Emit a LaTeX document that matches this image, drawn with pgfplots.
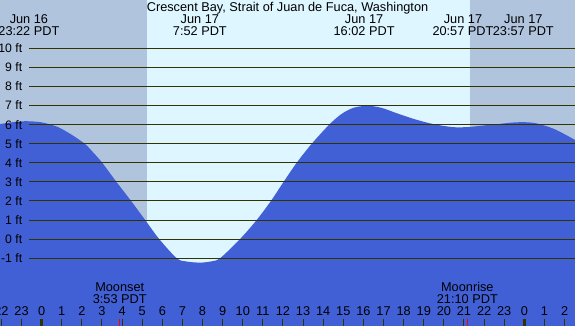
\documentclass[border=0pt]{standalone}
\usepackage{fontspec}
\setmainfont{Liberation Sans}
\usepackage{pgfplots}
\pgfplotsset{compat=1.18}
\definecolor{night}{RGB}{176,196,222}
\definecolor{day}{RGB}{222,246,255}
\definecolor{tide}{RGB}{66,96,214}
\definecolor{ink}{RGB}{51,51,0}
\begin{document}
\fontsize{12.8}{14}\selectfont
\begin{tikzpicture}
\begin{axis}[scale only axis, width=575bp, height=326bp,
  xmin=-2.07, xmax=26.52, ymin=-4.55, ymax=12.53,
  hide axis, clip=true,
  every node/.append style={text=ink, inner sep=0pt}]
\fill[night] (axis cs:-2.07,-4.55) rectangle (axis cs:5.22,12.53);
\fill[day] (axis cs:5.22,-4.55) rectangle (axis cs:21.3,12.53);
\fill[night] (axis cs:21.3,-4.55) rectangle (axis cs:26.52,12.53);
\addplot[fill=tide, draw=none, smooth, tension=0.5] coordinates {
(-2.07,6.03) (-1.5,6.12) (-0.8,6.18) (0.0,6.12) (0.75,5.9) (1.24,5.63)
(1.7,5.33) (2.2,4.95) (2.6,4.5) (3.0,4.02) (3.72,3.0) (4.45,2.0) (5.15,1.0)
(5.85,0.0) (6.72,-1.0) (7.2,-1.17) (7.87,-1.23) (8.4,-1.17) (8.87,-1.0)
(9.86,0.0) (10.69,1.0) (11.4,2.0) (12.03,3.0) (12.68,4.0) (13.43,5.0)
(14.3,6.0) (14.9,6.55) (15.5,6.88) (16.2,6.99) (16.9,6.88) (17.65,6.6)
(18.5,6.3) (19.3,6.07) (20.0,5.93) (20.6,5.86) (21.3,5.88) (22.0,5.96)
(22.63,6.02) (23.3,6.1) (23.9,6.13) (24.4,6.1) (24.78,6.02) (25.42,5.8)
(26.0,5.5) (26.52,5.2)
} -- (axis cs:26.52,-4.55) -- (axis cs:-2.07,-4.55) -- cycle;
\pgfplotsinvokeforeach{-1,...,10}{
  \draw[ink, line width=1bp] (axis cs:-0.63,#1) -- (axis cs:26.52,#1);
  \node[anchor=east, font=\fontsize{12.3}{14}\selectfont] at (axis cs:-0.746,#1) {#1 ft};
}
\pgfplotsinvokeforeach{-2,...,26}{
  \draw[ink, line width=1bp] (axis cs:#1,-4.18) -- (axis cs:#1,-4.55);
  \node[anchor=base] at (axis cs:#1,-4.02) {\pgfmathparse{int(mod(#1+24,24))}\pgfmathresult};
}
\draw[ink, line width=3bp] (axis cs:0,-4.18) -- (axis cs:0,-4.55);
\draw[ink, line width=3bp] (axis cs:24,-4.18) -- (axis cs:24,-4.55);
\draw[red, line width=1bp] (axis cs:3.883,-4.18) -- (axis cs:3.883,-4.55);
\draw[red, line width=1bp] (axis cs:21.167,-4.18) -- (axis cs:21.167,-4.55);
\node[anchor=base] at (axis cs:3.883,-2.75) {Moonset};
\node[anchor=base] at (axis cs:3.883,-3.39) {3:53 PDT};
\node[anchor=base] at (axis cs:21.167,-2.75) {Moonrise};
\node[anchor=base] at (axis cs:21.167,-3.39) {21:10 PDT};
\node[anchor=base] at (axis cs:12.225,11.92) {Crescent Bay, Strait of Juan de Fuca, Washington};
\node[anchor=base] at (axis cs:-0.633,11.28) {Jun 16};
\node[anchor=base] at (axis cs:-0.633,10.66) {23:22 PDT};
\node[anchor=base] at (axis cs:7.867,11.28) {Jun 17};
\node[anchor=base] at (axis cs:7.867,10.66) {7:52 PDT};
\node[anchor=base] at (axis cs:16.033,11.28) {Jun 17};
\node[anchor=base] at (axis cs:16.033,10.66) {16:02 PDT};
\node[anchor=base] at (axis cs:20.95,11.28) {Jun 17};
\node[anchor=base] at (axis cs:20.95,10.66) {20:57 PDT};
\node[anchor=base] at (axis cs:23.95,11.28) {Jun 17};
\node[anchor=base] at (axis cs:23.95,10.66) {23:57 PDT};
\end{axis}
\pgfresetboundingbox
\path (current axis.south west) rectangle (current axis.north east);
\end{tikzpicture}
\end{document}
